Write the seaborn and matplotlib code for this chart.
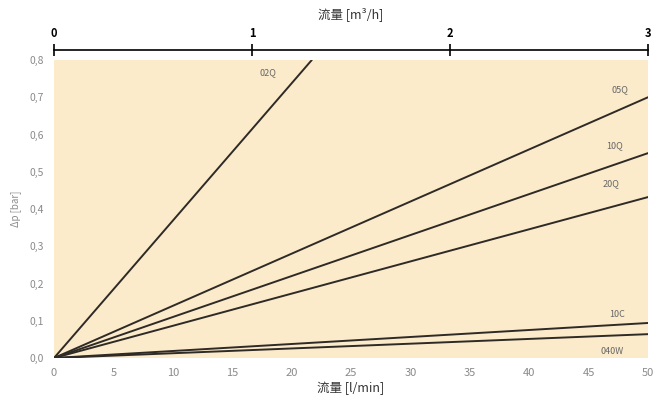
import numpy as np
import pandas as pd
import matplotlib
matplotlib.use("Agg")
import matplotlib.pyplot as plt
import seaborn as sns

# Data: straight pressure-drop curves, flow [l/min] vs dp [bar]
series_names = ['02Q', '05Q', '10Q', '20Q', '10C', '040W']
flow_end = [21.7, 50, 50, 50, 50, 50]          # l/min at line end
dp_end = [0.80, 0.70, 0.55, 0.432, 0.094, 0.064]  # bar at line end

x_ticks = [0, 5, 10, 15, 20, 25, 30, 35, 40, 45, 50]
y_ticks = [0.0, 0.1, 0.2, 0.3, 0.4, 0.5, 0.6, 0.7, 0.8]
top_ticks = [0, 1, 2, 3]

rows = []
for name, xe, ye in zip(series_names, flow_end, dp_end):
    rows.append({'series': name, 'flow': 0.0, 'dp': 0.0})
    rows.append({'series': name, 'flow': xe, 'dp': ye})
df = pd.DataFrame(rows)

sns.set_style('white')
plt.rcParams['font.family'] = ['Noto Sans CJK SC', 'DejaVu Sans']

fig = plt.figure(figsize=(6.53, 4.11), dpi=100)
ax = fig.add_axes([54 / 653, 1 - 358 / 411, 594 / 653, 298 / 411])
ax.set_facecolor('#fcebcb')

sns.lineplot(data=df, x='flow', y='dp', hue='series', palette=['#2e2a26'] * len(series_names),
             linewidth=1.4, legend=False, ax=ax)

ax.set_xlim(0, 50)
ax.set_ylim(0, 0.8)
for s in ax.spines.values():
    s.set_visible(False)

gray = '#8a8a8a'
ax.set_xticks(x_ticks)
ax.set_xticklabels([str(t) for t in x_ticks], color=gray, fontsize=8)
ax.set_yticks(y_ticks)
ax.set_yticklabels([f'{t:.1f}'.replace('.', ',') for t in y_ticks], color=gray, fontsize=7.5)
ax.tick_params(axis='both', length=0, pad=7)
ax.set_xlabel('流量 [l/min]', fontsize=9, color='#333333', labelpad=3)
ax.set_ylabel('Δp [bar]', fontsize=7, color=gray, labelpad=6)

# Series labels
label_pos = {
    '02Q': (18.0, 0.765),
    '05Q': (47.6, 0.72),
    '10Q': (47.2, 0.57),
    '20Q': (46.9, 0.468),
    '10C': (47.4, 0.116),
    '040W': (47.0, 0.018),
}
for name, (lx, ly) in label_pos.items():
    ax.text(lx, ly, name, fontsize=6.5, color='#666666', ha='center', va='center')

# Top axis in m3/h
top = ax.twiny()
top.set_xlim(0, 3)
for key in ['left', 'right', 'bottom']:
    top.spines[key].set_visible(False)
top.spines['top'].set_position(('outward', 7.2))
top.spines['top'].set_color('black')
top.spines['top'].set_linewidth(1.2)
top.set_xticks(top_ticks)
top.set_xticklabels([str(t) for t in top_ticks], fontsize=8, fontweight='bold', color='black')
top.tick_params(axis='x', direction='inout', length=8, width=1.2, color='black', pad=3)
top.set_xlabel('流量 [m³/h]', fontsize=9, color='#333333', labelpad=7)

fig.savefig('out.png', dpi=100)
